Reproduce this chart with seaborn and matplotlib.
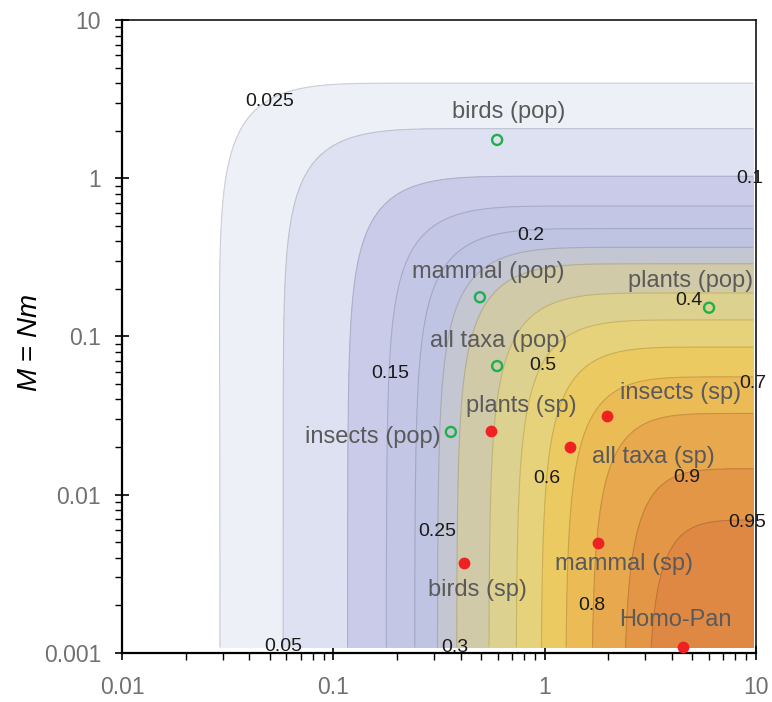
import numpy as np
import pandas as pd
import matplotlib
matplotlib.use("Agg")
import matplotlib.pyplot as plt
import seaborn as sns
from matplotlib.colors import to_rgb
from matplotlib.ticker import LogLocator, FixedFormatter, FixedLocator, NullFormatter

# ---------------- data ----------------
levels = [0.025, 0.05, 0.1, 0.15, 0.2, 0.25, 0.3, 0.4, 0.5, 0.6, 0.7, 0.8, 0.9, 0.95]
band_colors = ["#EEF0F8", "#DEE1F1", "#CACBE8", "#C4C6E6", "#BEC4E1", "#C4C6D2",
               "#D0CAA9", "#DDD18F", "#E6D27A", "#EBCA62", "#EBBB56", "#E8A84D",
               "#E39646", "#DF8843"]

# field parameters (matched to contour positions in the picture)
T_scale = 1.047
T_shape = 1.026
mig_coef = 6.9
mig_pow = 1.1

groups = ["birds (pop)", "mammal (pop)", "plants (pop)", "all taxa (pop)", "insects (pop)",
          "plants (sp)", "insects (sp)", "all taxa (sp)", "mammal (sp)", "birds (sp)", "Homo-Pan"]
T_vals = [0.596, 0.494, 6.0, 0.596, 0.36, 0.557, 1.97, 1.32, 1.79, 0.416, 4.52]
M_vals = [1.75, 0.177, 0.152, 0.065, 0.0249, 0.0252, 0.0314, 0.020, 0.00493, 0.00369, 0.00109]
kinds = ["pop", "pop", "pop", "pop", "pop", "sp", "sp", "sp", "sp", "sp", "sp"]

x_ticks = [0.01, 0.1, 1, 10]
x_ticklabels = ["0.01", "0.1", "1", "10"]
y_ticks = [0.001, 0.01, 0.1, 1, 10]
y_ticklabels = ["0.001", "0.01", "0.1", "1", "10"]

# layout (label offsets in points, alignment)
label_offsets = {
    "birds (pop)": (8.6, 20.2, "center"),
    "mammal (pop)": (6, 18, "center"),
    "plants (pop)": (-13.5, 19.0, "center"),
    "all taxa (pop)": (1, 18, "center"),
    "insects (pop)": (-7.7, -3.6, "right"),
    "plants (sp)": (22.2, 17.8, "center"),
    "insects (sp)": (53, 16.6, "center"),
    "all taxa (sp)": (60.3, -7.0, "center"),
    "mammal (sp)": (19, -15.1, "center"),
    "birds (sp)": (9.9, -19.2, "center"),
    "Homo-Pan": (-5.5, 19.2, "center"),
}
clabel_pos = [(0.0502, 3.04), (0.0578, 0.00110), (9.4, 1.0), (0.185, 0.0587),
              (0.863, 0.438), (0.31, 0.00582), (0.377, 0.00108), (4.82, 0.170),
              (0.982, 0.0659), (1.026, 0.0127), (9.7, 0.0507), (1.68, 0.002),
              (4.72, 0.0128), (9.1, 0.00664)]

df = pd.DataFrame({"group": groups, "T": T_vals, "M": M_vals, "kind": kinds})

# ---------------- style ----------------
sns.set_theme(style="white")
plt.rcParams["font.family"] = ["Liberation Sans", "DejaVu Sans"]
plt.rcParams["mathtext.fontset"] = "custom"
plt.rcParams["mathtext.rm"] = "Liberation Sans"
plt.rcParams["mathtext.it"] = "Liberation Sans:italic"

fig = plt.figure(figsize=(7.72, 7.02), dpi=100)
ax = fig.add_axes([0.158, 0.0702, 0.8212, 0.9010])
ax.set_xscale("log")
ax.set_yscale("log")
ax.set_xlim(0.01, 10)
ax.set_ylim(0.001, 10)

# ---------------- field ----------------
T_grid = np.logspace(np.log10(0.01), np.log10(9.7), 500)
M_grid = np.logspace(np.log10(0.00108), 1, 500)
TT, MM = np.meshgrid(T_grid, M_grid)
K = (1 + mig_coef * MM) ** mig_pow
Z = (1 - np.exp(-((TT * K) / T_scale) ** T_shape)) / K

ax.contourf(TT, MM, Z, levels=levels + [1.01], colors=band_colors)
line_cols = [tuple(np.array(to_rgb(c)) * 0.86) for c in band_colors]
cs = ax.contour(TT, MM, Z, levels=levels, colors=line_cols, linewidths=0.8)
labels = ax.clabel(cs, levels, inline=False, fontsize=14, colors="#1a1a1a",
                   fmt=lambda v: f"{v:g}", manual=clabel_pos)
for t, p in zip(labels, clabel_pos):
    t.set_rotation(0)
    t.set_clip_on(False)
    t.set_position(p)

# ---------------- points ----------------
green = "#1DB04B"
red = "#EE2222"
sns.scatterplot(data=df[df.kind == "pop"], x="T", y="M", ax=ax, s=52, color=green,
                linewidth=1.7, zorder=5, legend=False)
coll = ax.collections[-1]
coll.set_facecolor("none")
coll.set_edgecolor(green)
sns.scatterplot(data=df[df.kind == "sp"], x="T", y="M", ax=ax, s=72, color=red,
                linewidth=0, zorder=5, legend=False)

for g, t, m in zip(groups, T_vals, M_vals):
    dx, dy, ha = label_offsets[g]
    ax.annotate(g, (t, m), xytext=(dx, dy), textcoords="offset points", ha=ha, va="center",
                fontsize=17, color="#5a5a5a", zorder=6)

# ---------------- axes ----------------
ax.set_xlabel("")
ax.set_ylabel(r"$M$ = $Nm$", fontsize=20, color="black")
ax.yaxis.set_label_coords(-0.125, 0.49)

ax.xaxis.set_major_locator(FixedLocator(x_ticks))
ax.xaxis.set_major_formatter(FixedFormatter(x_ticklabels))
ax.yaxis.set_major_locator(FixedLocator(y_ticks))
ax.yaxis.set_major_formatter(FixedFormatter(y_ticklabels))
ax.xaxis.set_minor_locator(LogLocator(base=10, subs=np.arange(2, 10), numticks=20))
ax.yaxis.set_minor_locator(LogLocator(base=10, subs=np.arange(2, 10), numticks=20))
ax.xaxis.set_minor_formatter(NullFormatter())
ax.yaxis.set_minor_formatter(NullFormatter())

ax.tick_params(which="major", direction="inout", length=10, width=1.2, color="black",
               labelsize=16.5, labelcolor="#707070", bottom=True, left=True)
ax.tick_params(axis="x", which="major", pad=12)
ax.tick_params(axis="y", which="major", pad=10)
ax.tick_params(which="minor", direction="out", length=5, width=1.0, color="black",
               bottom=True, left=True)

for side in ["left", "bottom"]:
    ax.spines[side].set_linewidth(1.6)
    ax.spines[side].set_color("black")
for side in ["top", "right"]:
    ax.spines[side].set_linewidth(1.1)
    ax.spines[side].set_color("black")
    ax.spines[side].set_visible(True)

fig.savefig("out.png", dpi=100)
